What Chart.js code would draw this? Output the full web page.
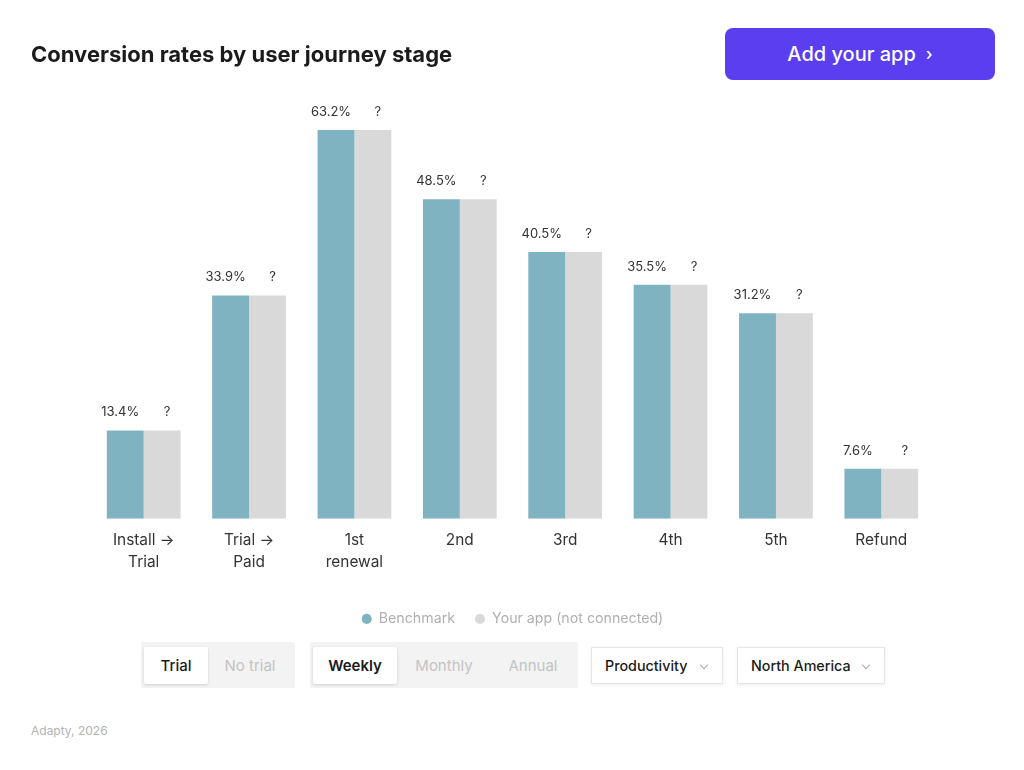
<!DOCTYPE html>
<html>
<head>
<meta charset="utf-8">
<script src="https://cdn.jsdelivr.net/npm/chart.js@4.4.1/dist/chart.umd.min.js"></script>
<style>
  html, body { margin: 0; padding: 0; background: #fff; }
  body { width: 1024px; height: 770px; position: relative; overflow: hidden; font-family: Inter, "Noto Sans", sans-serif; }
  #wrap { position: absolute; left: 0; top: 0; width: 1024px; height: 641px; }
  h1 { position: absolute; left: 31px; top: 40px; margin: 0; font-size: 22px; font-weight: 700; color: #1b1b1b; line-height: 29px; }
  .btn { position: absolute; left: 725px; top: 28px; width: 270px; height: 52px; background: #5a3ef0; border-radius: 8px;
         color: #fff; font-size: 20px; font-weight: 500; display: flex; align-items: center; justify-content: center; }
  .btn span { margin-left: 10px; font-size: 17px; }
  .seg { position: absolute; top: 642px; height: 46px; background: #f3f3f3; border-radius: 2px; display: flex; align-items: center; padding: 0 3px; box-sizing: border-box; }
  .seg div { height: 37px; display: flex; align-items: center; justify-content: center; font-size: 15px; color: #c3c3c3; }
  .seg div.on { background: #fff; color: #1b1b1b; font-weight: 500; box-shadow: 0 1px 3px rgba(0,0,0,0.15); border-radius: 2px; }
  .dd { position: absolute; top: 647px; height: 37px; background: #fff; border: 1px solid #e6e6e6; box-shadow: 0 1px 3px rgba(0,0,0,0.08);
        box-sizing: border-box; display: flex; align-items: center; font-size: 14.3px; font-weight: 500; color: #1b1b1b; padding-left: 13px; }
  .dd i { position: absolute; top: 14px; width: 5px; height: 5px; border-right: 1.3px solid #aaa; border-bottom: 1.3px solid #aaa; transform: rotate(45deg); }
  .foot { position: absolute; left: 31px; top: 723px; font-size: 12px; color: #b3b3b3; }
</style>
</head>
<body>
<div id="wrap"><canvas id="chart"></canvas></div>
<h1>Conversion rates by user journey stage</h1>
<div class="btn">Add your app<span>›</span></div>

<div class="seg" style="left:141px;width:154px;">
  <div class="on" style="width:64px;">Trial</div>
  <div style="width:84px;">No trial</div>
</div>
<div class="seg" style="left:310px;width:268px;">
  <div class="on" style="width:84px;font-weight:600;">Weekly</div>
  <div style="width:94px;">Monthly</div>
  <div style="width:84px;">Annual</div>
</div>
<div class="dd" style="left:591px;width:132px;">Productivity<i style="left:109px;"></i></div>
<div class="dd" style="left:737px;width:148px;">North America<i style="left:125px;"></i></div>
<div class="foot">Adapty, 2026</div>

<script>
const stages = [["Install →", "Trial"], ["Trial →", "Paid"], ["1st", "renewal"], "2nd", "3rd", "4th", "5th", "Refund"];
const benchmark = [13.4, 33.9, 63.2, 48.5, 40.5, 35.5, 31.2, 7.6];
// app not connected: grey placeholder bars drawn at the benchmark height
const yourApp = [13.4, 33.9, 63.2, 48.5, 40.5, 35.5, 31.2, 7.6];
const benchmarkLabels = ["13.4%", "33.9%", "63.2%", "48.5%", "40.5%", "35.5%", "31.2%", "7.6%"];
const yourAppLabels = ["?", "?", "?", "?", "?", "?", "?", "?"];

const barLabels = {
  id: "barLabels",
  afterDatasetsDraw(chart) {
    const ctx = chart.ctx, top = chart.chartArea.top;
    const sets = [[benchmarkLabels, -5], [yourAppLabels, 5]];
    ctx.save();
    ctx.font = "13px Inter";
    ctx.fillStyle = "#333";
    ctx.textAlign = "center";
    ctx.textBaseline = "middle";
    sets.forEach(([labels, dx], i) => {
      chart.getDatasetMeta(i).data.forEach((bar, j) => {
        ctx.fillText(labels[j], bar.x + dx, Math.max(bar.y, top) - 18);
      });
    });
    ctx.restore();
  }
};

new Chart(document.getElementById("chart").getContext("2d"), {
  type: "bar",
  data: {
    labels: stages,
    datasets: [
      { label: "Benchmark", data: benchmark, backgroundColor: "#7fb3c2" },
      { label: "Your app (not connected)", data: yourApp, backgroundColor: "#d9d9d9" },
    ],
  },
  options: {
    responsive: true, maintainAspectRatio: false, animation: false,
    categoryPercentage: 0.7, barPercentage: 1,
    layout: { padding: { top: 130, left: 91, right: 90, bottom: 5 } },
    plugins: {
      tooltip: { enabled: false },
      legend: {
        position: "bottom",
        labels: { usePointStyle: true, pointStyle: "circle", boxHeight: 7.2, pointStyleWidth: 10, padding: 20,
                  color: "#b0b0b0", font: { family: "Inter", size: 14.2 } },
      },
    },
    scales: {
      x: {
        grid: { display: false, drawTicks: false }, border: { display: false },
        ticks: { color: "#333", padding: 11, font: { family: "Inter", size: 15.4, lineHeight: 1.43 } },
        afterFit: (s) => { s.height = 73; },
      },
      y: { display: false, min: 0, max: 59 },
    },
  },
  plugins: [barLabels],
});
</script>
</body>
</html>
